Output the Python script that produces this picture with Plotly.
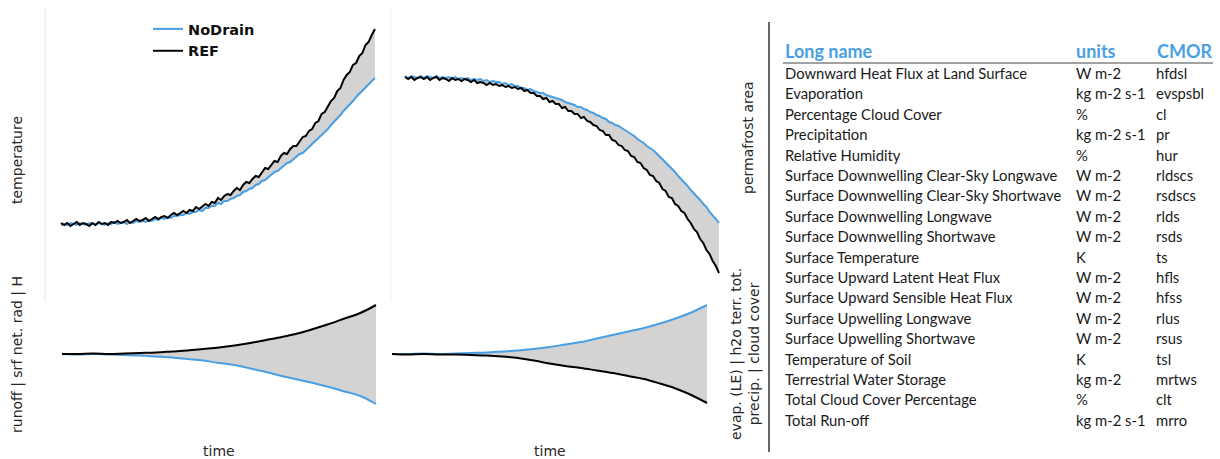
import plotly.graph_objects as go

W, H = 1220, 459

# ---------------- data ----------------
time_fine = list(range(0, 101))
time_coarse = list(range(0, 101, 5))

temp_ref = [2, 0, 2, -1, 1, 3, 0, 2, 1, -1, 2, 0, 3, 1, 2, 0, 3, 2, 4, 2,
            3, 5, 2, 4, 6, 4, 5, 7, 4, 6, 8, 6, 8, 9, 7, 10, 12, 10, 12, 14,
            12, 15, 14, 18, 16, 19, 21, 19, 23, 22, 27, 25, 29, 31, 30, 34, 37, 35, 40, 43,
            42, 46, 49, 48, 53, 57, 56, 60, 64, 63, 69, 72, 71, 76, 79, 79, 84, 88, 89, 94,
            96, 102, 104, 111, 113, 119, 124, 127, 134, 137, 145, 150, 153, 160, 162, 169, 172,
            180, 183, 190, 196]
temp_nodrain = [0, 1, 0, 2, 1, 0, 2, 1, 0, 2, 1, 0, 2, 1, 0, 2, 1, 3, 1, 2,
                3, 1, 3, 2, 4, 3, 4, 3, 5, 4, 6, 5, 7, 6, 8, 7, 9, 9, 10, 10,
                12, 11, 13, 13, 15, 14, 17, 17, 19, 19, 22, 21, 24, 24, 26, 27, 29, 30, 33, 34,
                36, 37, 40, 41, 44, 45, 48, 50, 53, 54, 57, 59, 62, 63, 66, 68, 71, 72, 75, 78,
                80, 83, 87, 89, 93, 96, 100, 103, 107, 110, 114, 117, 121, 124, 128, 131, 134,
                137, 141, 143, 147]

perma_ref = [203, 201, 203, 200, 202, 203, 201, 203, 200, 202, 203, 200, 202, 201, 199, 202,
             200, 201, 199, 201, 200, 198, 200, 197, 198, 197, 195, 197, 195, 196, 194, 195,
             193, 194, 192, 193, 191, 192, 189, 190, 187, 187, 184, 184, 181, 182, 178, 179,
             176, 176, 172, 173, 169, 169, 166, 166, 162, 163, 159, 158, 155, 154, 150, 149,
             145, 145, 140, 139, 135, 134, 130, 129, 124, 123, 118, 117, 112, 110, 105, 104,
             99, 97, 91, 89, 83, 82, 76, 74, 69, 67, 61, 57, 51, 48, 41, 37, 30, 26, 19, 14, 7]
perma_nodrain = [204, 202, 204, 203, 202, 204, 202, 204, 203, 202, 204, 202, 203, 202, 203,
                 201, 203, 201, 202, 201, 202, 200, 201, 200, 201, 199, 200, 198, 199, 198,
                 198, 196, 197, 195, 196, 194, 194, 192, 192, 190, 191, 189, 188, 187, 187,
                 185, 184, 183, 182, 181, 180, 178, 177, 176, 175, 173, 173, 171, 170, 168,
                 167, 165, 164, 162, 161, 158, 157, 155, 154, 152, 150, 148, 146, 144, 141,
                 139, 137, 134, 132, 130, 127, 124, 121, 117, 114, 111, 108, 104, 101, 98, 94,
                 90, 87, 84, 80, 76, 73, 68, 65, 61, 57]

runoff_ref = [0, 0, 0.5, 0, 0.5, 1, 1.5, 2.5, 3.5, 5, 6.5, 8.5, 11, 14, 17, 20.5, 25, 30, 35.5,
              41, 49]
runoff_nodrain = [0, -0.5, 0, -0.5, -1, -1.5, -2.5, -3.5, -5, -6.5, -9, -11, -14.5, -18, -22,
                  -25.5, -29, -33, -37.5, -42, -50]

evap_ref = [0, -0.5, 0, -0.5, -0.5, -1, -1.5, -2.5, -4, -6.5, -9.5, -12, -14, -16.5, -19, -22,
            -25, -29.5, -34.5, -41, -49]
evap_nodrain = [0, 0, 0.5, 0, 0.5, 1, 1.5, 2.5, 3.5, 5, 7, 9.5, 12, 15.5, 19, 22.5, 26, 30.5,
                35.5, 41.5, 49]

long_names = ["Downward Heat Flux at Land Surface", "Evaporation", "Percentage Cloud Cover",
              "Precipitation", "Relative Humidity", "Surface Downwelling Clear-Sky Longwave",
              "Surface Downwelling Clear-Sky Shortwave", "Surface Downwelling Longwave",
              "Surface Downwelling Shortwave", "Surface Temperature",
              "Surface Upward Latent Heat Flux", "Surface Upward Sensible Heat Flux",
              "Surface Upwelling Longwave", "Surface Upwelling Shortwave", "Temperature of Soil",
              "Terrestrial Water Storage", "Total Cloud Cover Percentage", "Total Run-off"]
units = ["W m-2", "kg m-2 s-1", "%", "kg m-2 s-1", "%", "W m-2", "W m-2", "W m-2", "W m-2", "K",
         "W m-2", "W m-2", "W m-2", "W m-2", "K", "kg m-2", "%", "kg m-2 s-1"]
cmor = ["hfdsl", "evspsbl", "cl", "pr", "hur", "rldscs", "rsdscs", "rlds", "rsds", "ts", "hfls",
        "hfss", "rlus", "rsus", "tsl", "mrtws", "clt", "mrro"]
headers = ["Long name", "units", "CMOR"]

BLUE = "#4a9fe3"
BLACK = "#000000"
FILL = "#d3d3d3"
TXT = "#262626"


def px(x):
    return x / W


def py(y):
    return 1 - y / H


fig = go.Figure()

panels = [
    # (axis suffix, time, nodrain, ref, legend)
    ("", time_fine, temp_nodrain, temp_ref, True),
    ("2", time_fine, perma_nodrain, perma_ref, False),
    ("3", time_coarse, runoff_nodrain, runoff_ref, False),
    ("4", time_coarse, evap_nodrain, evap_ref, False),
]

for suf, t, nd, ref, show in panels:
    xa, ya = "x" + suf, "y" + suf
    shape = "linear" if t is time_fine else "spline"
    fig.add_trace(go.Scatter(x=t, y=ref, xaxis=xa, yaxis=ya, mode="lines",
                             line=dict(width=0, color=FILL, shape=shape), showlegend=False,
                             hoverinfo="skip"))
    fig.add_trace(go.Scatter(x=t, y=nd, xaxis=xa, yaxis=ya, mode="lines", fill="tonexty",
                             fillcolor=FILL, line=dict(width=0, color=FILL, shape=shape),
                             showlegend=False, hoverinfo="skip"))
    fig.add_trace(go.Scatter(x=t, y=nd, xaxis=xa, yaxis=ya, mode="lines", name="NoDrain",
                             line=dict(width=2, color=BLUE, shape=shape), showlegend=show))
    fig.add_trace(go.Scatter(x=t, y=ref, xaxis=xa, yaxis=ya, mode="lines", name="REF",
                             line=dict(width=2, color=BLACK, shape=shape), showlegend=show))

hidden = dict(showgrid=False, zeroline=False, showline=False, showticklabels=False, ticks="")

layout_axes = {
    "xaxis": dict(domain=[px(45), px(390)], range=[-5.1, 104.8], anchor="y", **hidden),
    "yaxis": dict(domain=[py(250), py(8)], range=[-25, 217], anchor="x", **hidden),
    "xaxis2": dict(domain=[px(391), px(735)], range=[-4.46, 105.1], anchor="y2", **hidden),
    "yaxis2": dict(domain=[py(290), py(8)], range=[-10, 272], anchor="x2", **hidden),
    "xaxis3": dict(domain=[px(45), px(390)], range=[-5.41, 104.46], anchor="y3", **hidden),
    "yaxis3": dict(domain=[py(420), py(290)], range=[-66, 64], anchor="x3", **hidden),
    "xaxis4": dict(domain=[px(380), px(720)], range=[-3.81, 104.13], anchor="y4", **hidden),
    "yaxis4": dict(domain=[py(420), py(290)], range=[-66, 64], anchor="x4", **hidden),
}

shapes = [
    dict(type="line", xref="paper", yref="paper", x0=px(45), x1=px(45), y0=py(8), y1=py(302),
         line=dict(color="#e4e4e4", width=1)),
    dict(type="line", xref="paper", yref="paper", x0=px(391), x1=px(391), y0=py(8), y1=py(300),
         line=dict(color="#f2f2f2", width=1)),
    dict(type="line", xref="paper", yref="paper", x0=px(769), x1=px(769), y0=py(22), y1=py(452),
         line=dict(color="#333333", width=1.5)),
    dict(type="line", xref="paper", yref="paper", x0=px(783), x1=px(1213), y0=py(63), y1=py(63),
         line=dict(color="#444444", width=1)),
]

ann = []
LAB = dict(family="DejaVu Sans", size=14, color=TXT)


def label(text, x, y, angle=0):
    ann.append(dict(text=text, x=px(x), y=py(y), xref="paper", yref="paper", showarrow=False,
                    xanchor="center", yanchor="middle", textangle=angle, font=LAB))


label("temperature", 17, 160, -90)
label("permafrost area", 748, 138, -90)
label("runoff | srf net. rad | H", 17, 355, -90)
label("evap. (LE) | h2o terr. tot.<br>precip. | cloud cover", 745, 354, -90)
label("time", 219, 451)
label("time", 550, 451)

col_x = [783, 1074, 1155]
for hx, htxt in zip(col_x, headers):
    ann.append(dict(text=htxt, x=px(hx), y=py(51), xref="paper", yref="paper", showarrow=False,
                    xanchor="left", yanchor="middle",
                    font=dict(family="Lato", size=18, color=BLUE, weight="bold")))

for i, (ln, un, cm) in enumerate(zip(long_names, units, cmor)):
    yy = 73 + i * 20.4
    for cx, txt in zip(col_x, [ln, un, cm]):
        ann.append(dict(text=txt, x=px(cx - 1 if cx == 1155 else cx), y=py(yy), xref="paper",
                        yref="paper", showarrow=False, xanchor="left", yanchor="middle",
                        font=dict(family="Lato", size=14.8, color="#1a1a1a")))

fig.update_layout(
    width=W, height=H, autosize=False,
    margin=dict(l=0, r=0, t=0, b=0, pad=0),
    paper_bgcolor="white", plot_bgcolor="rgba(0,0,0,0)",
    showlegend=True,
    legend=dict(x=px(148), y=py(13), xanchor="left", yanchor="top", traceorder="normal",
                bgcolor="rgba(0,0,0,0)", itemwidth=30, tracegroupgap=0,
                font=dict(family="DejaVu Sans", size=14.5, color="#111111", weight="bold")),
    shapes=shapes, annotations=ann,
    **layout_axes,
)

fig.write_html("out.html", config={"displayModeBar": False},
               post_script="document.body.style.margin='0';")
